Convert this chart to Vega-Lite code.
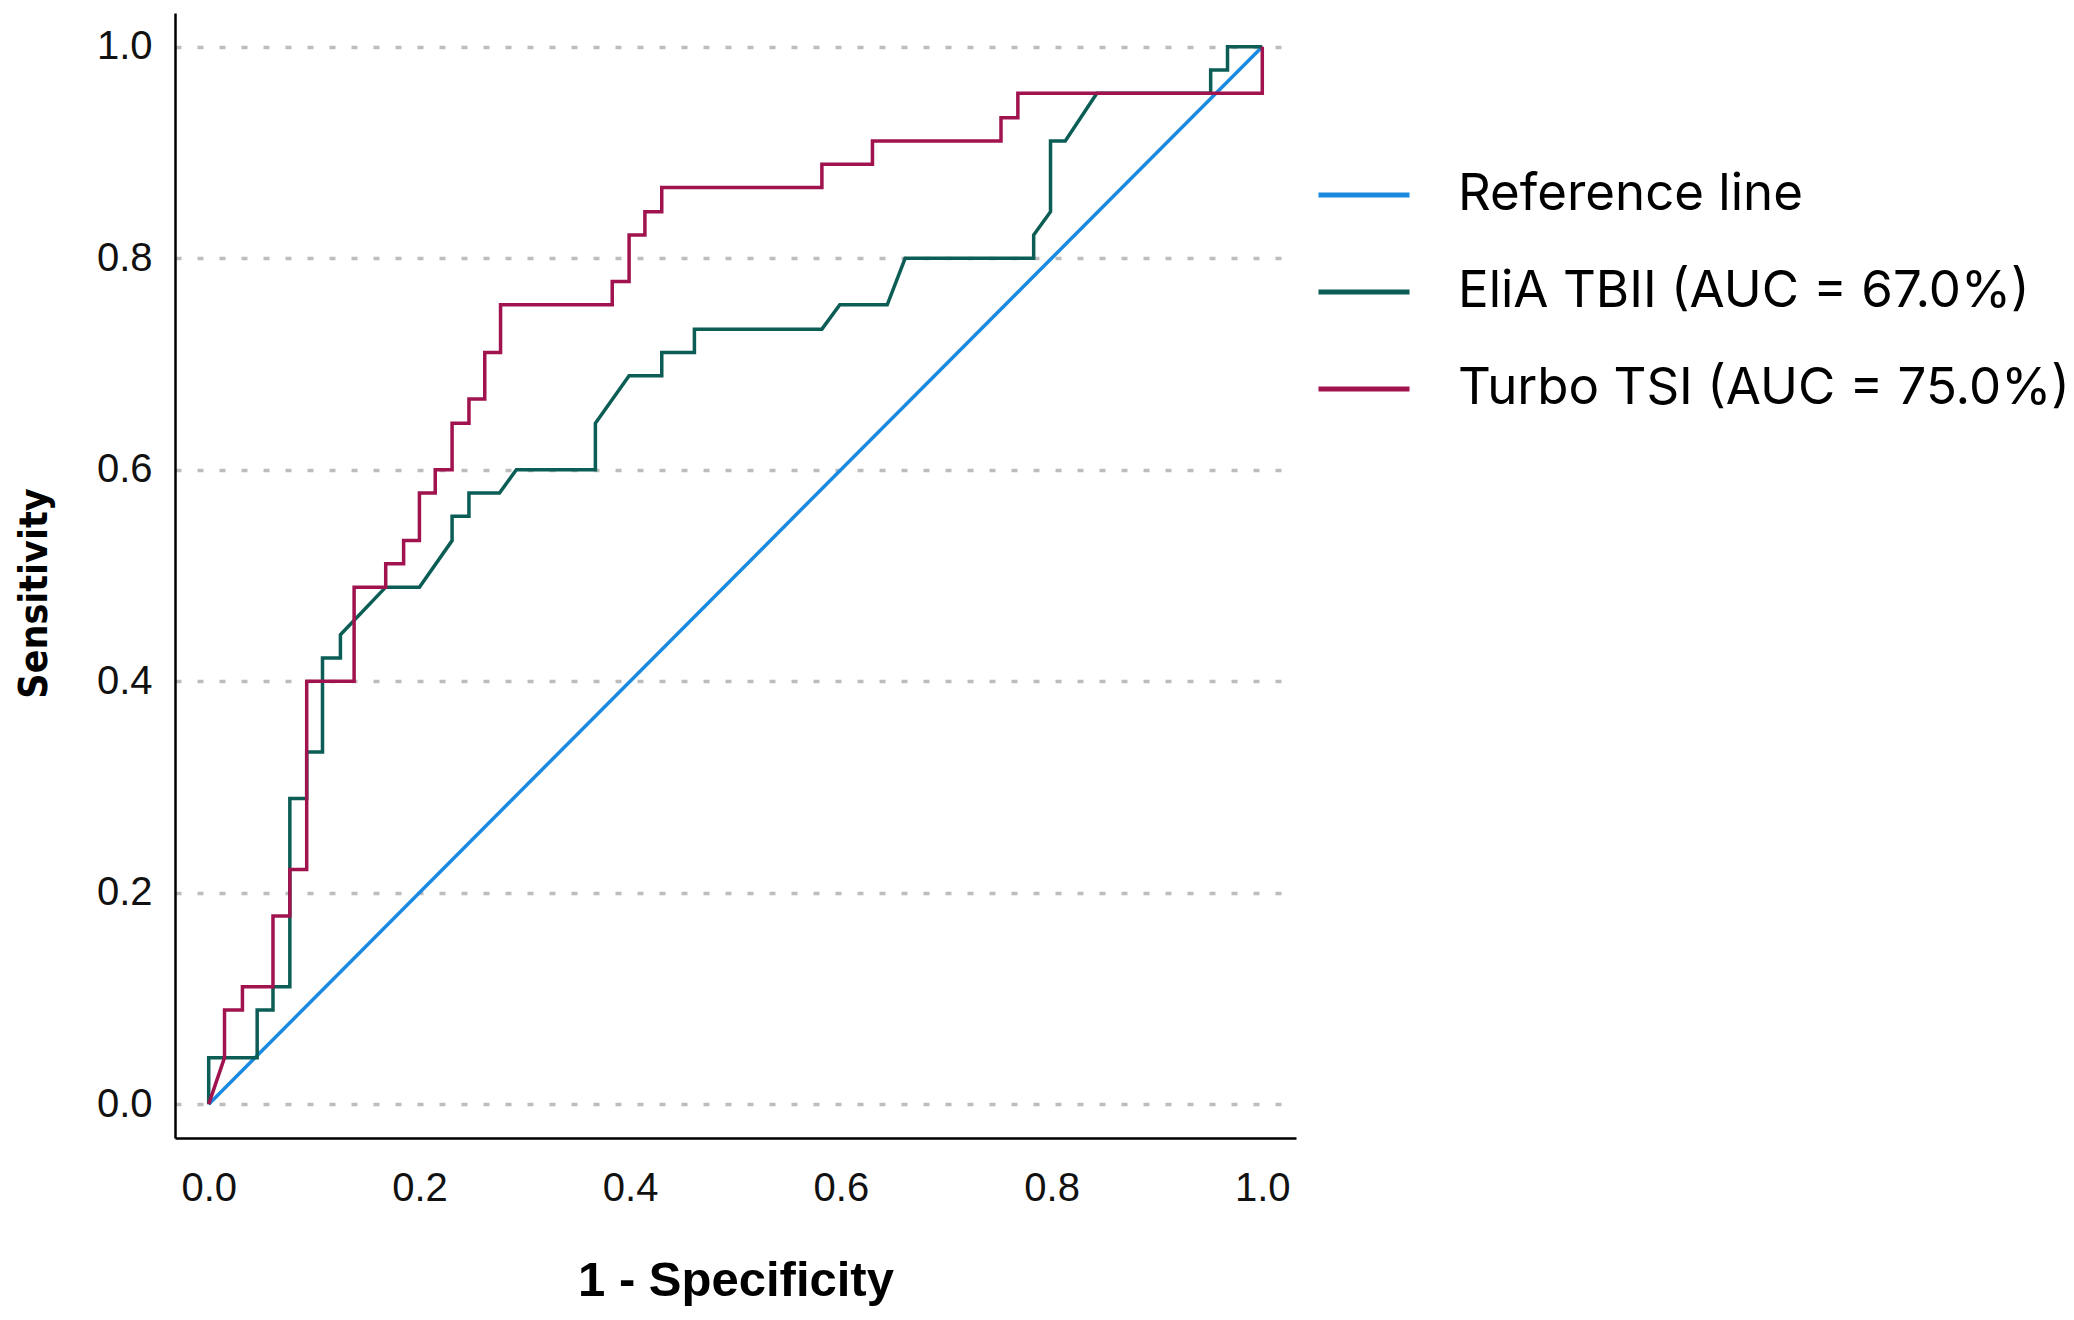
{
  "$schema": "https://vega.github.io/schema/vega-lite/v6.json",
  "width": 1121,
  "height": 1125,
  "autosize": {"type": "none"},
  "padding": {"left": 175, "top": 13, "right": 778, "bottom": 182},
  "background": "white",
  "config": {"view": {"stroke": null}},
  "data": {
    "values": [
      {"series": "Reference line", "i": 0, "x": 0, "y": 0},
      {"series": "Reference line", "i": 1, "x": 1, "y": 1},

      {"series": "EliA TBII (AUC = 67.0%)", "i": 0, "x": 0, "y": 0},
      {"series": "EliA TBII (AUC = 67.0%)", "i": 1, "x": 0, "y": 0.044},
      {"series": "EliA TBII (AUC = 67.0%)", "i": 2, "x": 0.046, "y": 0.044},
      {"series": "EliA TBII (AUC = 67.0%)", "i": 3, "x": 0.046, "y": 0.089},
      {"series": "EliA TBII (AUC = 67.0%)", "i": 4, "x": 0.061, "y": 0.089},
      {"series": "EliA TBII (AUC = 67.0%)", "i": 5, "x": 0.061, "y": 0.111},
      {"series": "EliA TBII (AUC = 67.0%)", "i": 6, "x": 0.077, "y": 0.111},
      {"series": "EliA TBII (AUC = 67.0%)", "i": 7, "x": 0.077, "y": 0.289},
      {"series": "EliA TBII (AUC = 67.0%)", "i": 8, "x": 0.093, "y": 0.289},
      {"series": "EliA TBII (AUC = 67.0%)", "i": 9, "x": 0.093, "y": 0.333},
      {"series": "EliA TBII (AUC = 67.0%)", "i": 10, "x": 0.108, "y": 0.333},
      {"series": "EliA TBII (AUC = 67.0%)", "i": 11, "x": 0.108, "y": 0.422},
      {"series": "EliA TBII (AUC = 67.0%)", "i": 12, "x": 0.125, "y": 0.422},
      {"series": "EliA TBII (AUC = 67.0%)", "i": 13, "x": 0.125, "y": 0.444},
      {"series": "EliA TBII (AUC = 67.0%)", "i": 14, "x": 0.168, "y": 0.489},
      {"series": "EliA TBII (AUC = 67.0%)", "i": 15, "x": 0.2, "y": 0.489},
      {"series": "EliA TBII (AUC = 67.0%)", "i": 16, "x": 0.231, "y": 0.533},
      {"series": "EliA TBII (AUC = 67.0%)", "i": 17, "x": 0.231, "y": 0.556},
      {"series": "EliA TBII (AUC = 67.0%)", "i": 18, "x": 0.247, "y": 0.556},
      {"series": "EliA TBII (AUC = 67.0%)", "i": 19, "x": 0.247, "y": 0.578},
      {"series": "EliA TBII (AUC = 67.0%)", "i": 20, "x": 0.276, "y": 0.578},
      {"series": "EliA TBII (AUC = 67.0%)", "i": 21, "x": 0.292, "y": 0.6},
      {"series": "EliA TBII (AUC = 67.0%)", "i": 22, "x": 0.367, "y": 0.6},
      {"series": "EliA TBII (AUC = 67.0%)", "i": 23, "x": 0.367, "y": 0.644},
      {"series": "EliA TBII (AUC = 67.0%)", "i": 24, "x": 0.399, "y": 0.689},
      {"series": "EliA TBII (AUC = 67.0%)", "i": 25, "x": 0.43, "y": 0.689},
      {"series": "EliA TBII (AUC = 67.0%)", "i": 26, "x": 0.43, "y": 0.711},
      {"series": "EliA TBII (AUC = 67.0%)", "i": 27, "x": 0.461, "y": 0.711},
      {"series": "EliA TBII (AUC = 67.0%)", "i": 28, "x": 0.461, "y": 0.733},
      {"series": "EliA TBII (AUC = 67.0%)", "i": 29, "x": 0.582, "y": 0.733},
      {"series": "EliA TBII (AUC = 67.0%)", "i": 30, "x": 0.599, "y": 0.756},
      {"series": "EliA TBII (AUC = 67.0%)", "i": 31, "x": 0.644, "y": 0.756},
      {"series": "EliA TBII (AUC = 67.0%)", "i": 32, "x": 0.661, "y": 0.8},
      {"series": "EliA TBII (AUC = 67.0%)", "i": 33, "x": 0.783, "y": 0.8},
      {"series": "EliA TBII (AUC = 67.0%)", "i": 34, "x": 0.783, "y": 0.822},
      {"series": "EliA TBII (AUC = 67.0%)", "i": 35, "x": 0.799, "y": 0.844},
      {"series": "EliA TBII (AUC = 67.0%)", "i": 36, "x": 0.799, "y": 0.911},
      {"series": "EliA TBII (AUC = 67.0%)", "i": 37, "x": 0.813, "y": 0.911},
      {"series": "EliA TBII (AUC = 67.0%)", "i": 38, "x": 0.843, "y": 0.956},
      {"series": "EliA TBII (AUC = 67.0%)", "i": 39, "x": 0.951, "y": 0.956},
      {"series": "EliA TBII (AUC = 67.0%)", "i": 40, "x": 0.951, "y": 0.978},
      {"series": "EliA TBII (AUC = 67.0%)", "i": 41, "x": 0.967, "y": 0.978},
      {"series": "EliA TBII (AUC = 67.0%)", "i": 42, "x": 0.967, "y": 1.0},
      {"series": "EliA TBII (AUC = 67.0%)", "i": 43, "x": 1.0, "y": 1.0},

      {"series": "Turbo TSI (AUC = 75.0%)", "i": 0, "x": 0, "y": 0},
      {"series": "Turbo TSI (AUC = 75.0%)", "i": 1, "x": 0.015, "y": 0.044},
      {"series": "Turbo TSI (AUC = 75.0%)", "i": 2, "x": 0.015, "y": 0.089},
      {"series": "Turbo TSI (AUC = 75.0%)", "i": 3, "x": 0.032, "y": 0.089},
      {"series": "Turbo TSI (AUC = 75.0%)", "i": 4, "x": 0.032, "y": 0.111},
      {"series": "Turbo TSI (AUC = 75.0%)", "i": 5, "x": 0.061, "y": 0.111},
      {"series": "Turbo TSI (AUC = 75.0%)", "i": 6, "x": 0.061, "y": 0.178},
      {"series": "Turbo TSI (AUC = 75.0%)", "i": 7, "x": 0.077, "y": 0.178},
      {"series": "Turbo TSI (AUC = 75.0%)", "i": 8, "x": 0.077, "y": 0.222},
      {"series": "Turbo TSI (AUC = 75.0%)", "i": 9, "x": 0.093, "y": 0.222},
      {"series": "Turbo TSI (AUC = 75.0%)", "i": 10, "x": 0.093, "y": 0.4},
      {"series": "Turbo TSI (AUC = 75.0%)", "i": 11, "x": 0.138, "y": 0.4},
      {"series": "Turbo TSI (AUC = 75.0%)", "i": 12, "x": 0.138, "y": 0.489},
      {"series": "Turbo TSI (AUC = 75.0%)", "i": 13, "x": 0.168, "y": 0.489},
      {"series": "Turbo TSI (AUC = 75.0%)", "i": 14, "x": 0.168, "y": 0.511},
      {"series": "Turbo TSI (AUC = 75.0%)", "i": 15, "x": 0.185, "y": 0.511},
      {"series": "Turbo TSI (AUC = 75.0%)", "i": 16, "x": 0.185, "y": 0.533},
      {"series": "Turbo TSI (AUC = 75.0%)", "i": 17, "x": 0.2, "y": 0.533},
      {"series": "Turbo TSI (AUC = 75.0%)", "i": 18, "x": 0.2, "y": 0.578},
      {"series": "Turbo TSI (AUC = 75.0%)", "i": 19, "x": 0.215, "y": 0.578},
      {"series": "Turbo TSI (AUC = 75.0%)", "i": 20, "x": 0.215, "y": 0.6},
      {"series": "Turbo TSI (AUC = 75.0%)", "i": 21, "x": 0.231, "y": 0.6},
      {"series": "Turbo TSI (AUC = 75.0%)", "i": 22, "x": 0.231, "y": 0.644},
      {"series": "Turbo TSI (AUC = 75.0%)", "i": 23, "x": 0.247, "y": 0.644},
      {"series": "Turbo TSI (AUC = 75.0%)", "i": 24, "x": 0.247, "y": 0.667},
      {"series": "Turbo TSI (AUC = 75.0%)", "i": 25, "x": 0.262, "y": 0.667},
      {"series": "Turbo TSI (AUC = 75.0%)", "i": 26, "x": 0.262, "y": 0.711},
      {"series": "Turbo TSI (AUC = 75.0%)", "i": 27, "x": 0.277, "y": 0.711},
      {"series": "Turbo TSI (AUC = 75.0%)", "i": 28, "x": 0.277, "y": 0.756},
      {"series": "Turbo TSI (AUC = 75.0%)", "i": 29, "x": 0.383, "y": 0.756},
      {"series": "Turbo TSI (AUC = 75.0%)", "i": 30, "x": 0.383, "y": 0.778},
      {"series": "Turbo TSI (AUC = 75.0%)", "i": 31, "x": 0.399, "y": 0.778},
      {"series": "Turbo TSI (AUC = 75.0%)", "i": 32, "x": 0.399, "y": 0.822},
      {"series": "Turbo TSI (AUC = 75.0%)", "i": 33, "x": 0.414, "y": 0.822},
      {"series": "Turbo TSI (AUC = 75.0%)", "i": 34, "x": 0.414, "y": 0.844},
      {"series": "Turbo TSI (AUC = 75.0%)", "i": 35, "x": 0.43, "y": 0.844},
      {"series": "Turbo TSI (AUC = 75.0%)", "i": 36, "x": 0.43, "y": 0.867},
      {"series": "Turbo TSI (AUC = 75.0%)", "i": 37, "x": 0.582, "y": 0.867},
      {"series": "Turbo TSI (AUC = 75.0%)", "i": 38, "x": 0.582, "y": 0.889},
      {"series": "Turbo TSI (AUC = 75.0%)", "i": 39, "x": 0.63, "y": 0.889},
      {"series": "Turbo TSI (AUC = 75.0%)", "i": 40, "x": 0.63, "y": 0.911},
      {"series": "Turbo TSI (AUC = 75.0%)", "i": 41, "x": 0.752, "y": 0.911},
      {"series": "Turbo TSI (AUC = 75.0%)", "i": 42, "x": 0.752, "y": 0.933},
      {"series": "Turbo TSI (AUC = 75.0%)", "i": 43, "x": 0.768, "y": 0.933},
      {"series": "Turbo TSI (AUC = 75.0%)", "i": 44, "x": 0.768, "y": 0.956},
      {"series": "Turbo TSI (AUC = 75.0%)", "i": 45, "x": 1.0, "y": 0.956},
      {"series": "Turbo TSI (AUC = 75.0%)", "i": 46, "x": 1.0, "y": 1.0}
    ]
  },
  "mark": {"type": "line", "strokeWidth": 3.5},
  "encoding": {
    "x": {
      "field": "x",
      "type": "quantitative",
      "scale": {"domain": [-0.032, 1.032], "nice": false, "zero": false},
      "axis": {
        "title": "1 - Specificity",
        "values": [0, 0.2, 0.4, 0.6, 0.8, 1.0],
        "format": ".1f",
        "grid": false,
        "ticks": false,
        "domainColor": "black",
        "domainWidth": 2.5,
        "labelFont": "Liberation Sans",
        "labelFontSize": 40,
        "labelColor": "#111111",
        "labelPadding": 30,
        "labelFlush": false,
        "titleFont": "Liberation Sans",
        "titleFontSize": 49,
        "titleFontWeight": "bold",
        "titleColor": "black",
        "titlePadding": 48
      }
    },
    "y": {
      "field": "y",
      "type": "quantitative",
      "scale": {"domain": [-0.032, 1.032], "nice": false, "zero": false},
      "axis": {
        "title": "Sensitivity",
        "values": [0, 0.2, 0.4, 0.6, 0.8, 1.0],
        "format": ".1f",
        "grid": true,
        "gridColor": "#bdbdbd",
        "gridDash": [6, 16],
        "gridWidth": 3.5,
        "ticks": false,
        "domainColor": "black",
        "domainWidth": 2.5,
        "labelFont": "Liberation Sans",
        "labelFontSize": 40,
        "labelColor": "#111111",
        "labelPadding": 23,
        "labelFlush": false,
        "titleFont": "DejaVu Sans Condensed",
        "titleFontSize": 39,
        "titleFontWeight": "bold",
        "titleColor": "black",
        "titlePadding": 42,
        "titleY": 580
      }
    },
    "color": {
      "field": "series",
      "type": "nominal",
      "scale": {
        "domain": ["Reference line", "EliA TBII (AUC = 67.0%)", "Turbo TSI (AUC = 75.0%)"],
        "range": ["#1a8ae0", "#0b5d55", "#a0134e"]
      },
      "legend": {
        "title": null,
        "orient": "none",
        "legendX": 1141,
        "legendY": 134,
        "padding": 0,
        "symbolType": "stroke",
        "symbolSize": 8281,
        "symbolStrokeWidth": 5,
        "labelFont": "Inter",
        "labelFontSize": 51,
        "labelColor": "black",
        "labelOffset": 46,
        "labelLimit": 1000,
        "rowPadding": 24
      }
    },
    "order": {"field": "i", "type": "quantitative"}
  }
}
